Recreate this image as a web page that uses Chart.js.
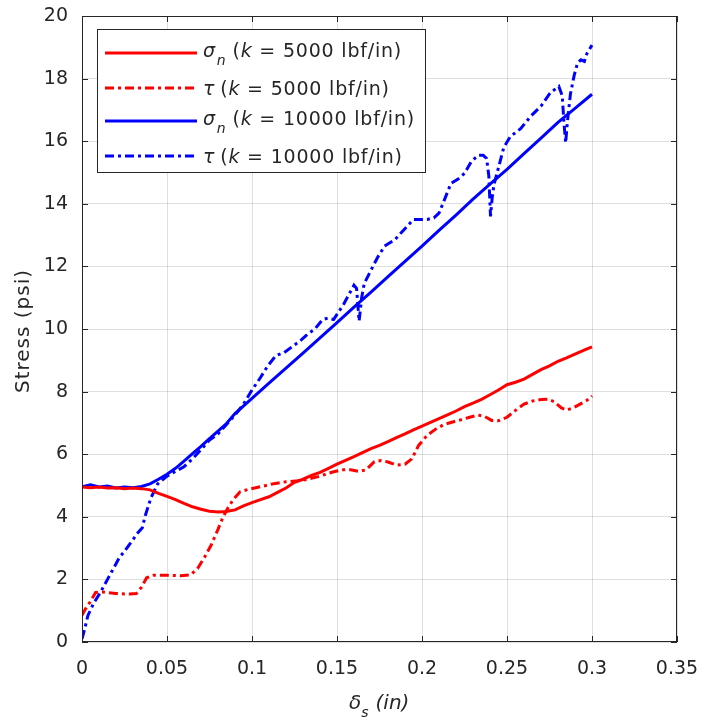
<!DOCTYPE html>
<html>
<head>
<meta charset="utf-8">
<script src="https://cdn.jsdelivr.net/npm/chart.js@4.4.1/dist/chart.umd.min.js"></script>
<style>
  html, body { margin: 0; padding: 0; background: #fff; }
</style>
</head>
<body>
<canvas id="stress" width="702" height="722"></canvas>
<script>
// sigma_n, k = 5000 lbf/in
const snSoftX = [0, 0.005, 0.01, 0.015, 0.02, 0.025, 0.03, 0.035, 0.04, 0.045, 0.05, 0.055, 0.06, 0.065, 0.07, 0.075, 0.08, 0.085, 0.09, 0.095, 0.1, 0.105, 0.11, 0.115, 0.12, 0.125, 0.13, 0.135, 0.14, 0.145, 0.15, 0.155, 0.16, 0.165, 0.17, 0.175, 0.18, 0.185, 0.19, 0.195, 0.2, 0.205, 0.21, 0.215, 0.22, 0.225, 0.23, 0.235, 0.24, 0.245, 0.25, 0.255, 0.26, 0.265, 0.27, 0.275, 0.28, 0.285, 0.29, 0.295, 0.3];
const snSoftY = [4.95, 4.93, 4.95, 4.92, 4.93, 4.9, 4.92, 4.9, 4.86, 4.75, 4.65, 4.55, 4.43, 4.32, 4.24, 4.18, 4.15, 4.17, 4.22, 4.35, 4.45, 4.55, 4.64, 4.78, 4.92, 5.1, 5.2, 5.32, 5.42, 5.55, 5.68, 5.8, 5.92, 6.05, 6.18, 6.28, 6.4, 6.53, 6.65, 6.78, 6.9, 7.02, 7.14, 7.26, 7.38, 7.52, 7.63, 7.75, 7.9, 8.05, 8.22, 8.3, 8.4, 8.55, 8.7, 8.82, 8.97, 9.08, 9.2, 9.32, 9.43];

// tau, k = 5000 lbf/in
const tauSoftX = [0, 0.002, 0.005, 0.008, 0.012, 0.02, 0.028, 0.032, 0.035, 0.038, 0.042, 0.05, 0.058, 0.064, 0.068, 0.072, 0.076, 0.08, 0.083, 0.086, 0.089, 0.093, 0.098, 0.105, 0.112, 0.12, 0.127, 0.133, 0.14, 0.148, 0.153, 0.158, 0.163, 0.167, 0.172, 0.176, 0.18, 0.185, 0.19, 0.194, 0.198, 0.203, 0.208, 0.213, 0.218, 0.223, 0.228, 0.233, 0.237, 0.241, 0.245, 0.25, 0.255, 0.26, 0.265, 0.27, 0.274, 0.278, 0.282, 0.285, 0.289, 0.293, 0.297, 0.3];
const tauSoftY = [0.85, 1.05, 1.3, 1.58, 1.6, 1.55, 1.53, 1.55, 1.75, 2.05, 2.13, 2.13, 2.12, 2.15, 2.35, 2.7, 3.1, 3.6, 4.0, 4.3, 4.55, 4.8, 4.88, 4.96, 5.05, 5.12, 5.15, 5.2, 5.3, 5.44, 5.5, 5.5, 5.45, 5.5, 5.76, 5.8, 5.75, 5.65, 5.68, 5.85, 6.28, 6.6, 6.8, 6.95, 7.03, 7.1, 7.18, 7.25, 7.2, 7.08, 7.07, 7.18, 7.4, 7.6, 7.7, 7.75, 7.76, 7.67, 7.48, 7.41, 7.48, 7.6, 7.72, 7.86];

// sigma_n, k = 10000 lbf/in
const snStiffX = [0, 0.005, 0.01, 0.015, 0.02, 0.025, 0.03, 0.035, 0.04, 0.045, 0.05, 0.055, 0.06, 0.065, 0.07, 0.075, 0.08, 0.085, 0.09, 0.1, 0.11, 0.12, 0.13, 0.14, 0.15, 0.16, 0.17, 0.18, 0.19, 0.2, 0.21, 0.22, 0.23, 0.24, 0.25, 0.26, 0.27, 0.28, 0.29, 0.3];
const snStiffY = [4.96, 5.02, 4.95, 4.98, 4.92, 4.95, 4.93, 4.97, 5.05, 5.2, 5.36, 5.55, 5.78, 6.02, 6.25, 6.5, 6.74, 6.98, 7.3, 7.78, 8.27, 8.75, 9.23, 9.72, 10.2, 10.7, 11.18, 11.67, 12.16, 12.65, 13.15, 13.64, 14.15, 14.63, 15.1, 15.6, 16.1, 16.6, 17.05, 17.5];

// tau, k = 10000 lbf/in
const tauStiffX = [0, 0.0015, 0.0035, 0.007, 0.011, 0.015, 0.019, 0.022, 0.025, 0.029, 0.033, 0.0355, 0.037, 0.0405, 0.0445, 0.05, 0.055, 0.06, 0.065, 0.07, 0.075, 0.08, 0.085, 0.09, 0.095, 0.1, 0.105, 0.109, 0.114, 0.119, 0.124, 0.129, 0.133, 0.137, 0.1415, 0.1445, 0.148, 0.151, 0.154, 0.157, 0.16, 0.1615, 0.163, 0.1645, 0.166, 0.17, 0.174, 0.178, 0.184, 0.189, 0.195, 0.199, 0.203, 0.207, 0.21, 0.213, 0.217, 0.221, 0.225, 0.229, 0.233, 0.236, 0.238, 0.2393, 0.2403, 0.2413, 0.2423, 0.2452, 0.2481, 0.252, 0.258, 0.264, 0.27, 0.2755, 0.2805, 0.2825, 0.2835, 0.2845, 0.2855, 0.2873, 0.2895, 0.2915, 0.2935, 0.2955, 0.297, 0.3];
const tauStiffY = [0.1, 0.4, 0.85, 1.25, 1.6, 2.0, 2.4, 2.7, 2.9, 3.2, 3.5, 3.65, 4.0, 4.6, 5.05, 5.3, 5.45, 5.6, 5.85, 6.15, 6.45, 6.65, 6.95, 7.25, 7.6, 8.05, 8.45, 8.8, 9.15, 9.25, 9.45, 9.65, 9.85, 10.0, 10.3, 10.35, 10.3, 10.55, 10.8, 11.1, 11.4, 11.3, 10.25, 11.0, 11.45, 11.88, 12.3, 12.65, 12.85, 13.15, 13.5, 13.5, 13.5, 13.55, 13.7, 14.1, 14.65, 14.78, 14.97, 15.35, 15.55, 15.55, 15.45, 14.9, 13.6, 14.2, 14.6, 15.2, 15.8, 16.15, 16.4, 16.8, 17.12, 17.55, 17.75, 17.45, 16.6, 15.95, 16.6, 17.5, 18.1, 18.5, 18.6, 18.55, 18.8, 19.07];

// legend pieces: symbol, subscript, spring stiffness
const seriesSymbol = ['σ', 'τ', 'σ', 'τ'];
const seriesSub = ['n', '', 'n', ''];
const stiffness = ['5000', '5000', '10000', '10000'];

const xTicks = [0, 0.05, 0.1, 0.15, 0.2, 0.25, 0.3, 0.35];
const yTicks = [0, 2, 4, 6, 8, 10, 12, 14, 16, 18, 20];

const RED = '#ff0000';
const BLUE = '#0000ff';
const DASHDOT = [9, 4, 3, 4];
const INK = '#262626';
const FONT = '"DejaVu Sans", sans-serif';

function toPoints(xs, ys) {
  return xs.map((x, i) => ({ x: x, y: ys[i] }));
}

function lineSet(label, xs, ys, color, dash) {
  return {
    label: label,
    data: toPoints(xs, ys),
    borderColor: color,
    borderWidth: 3,
    borderDash: dash,
    pointRadius: 0,
    tension: 0,
    fill: false
  };
}

const series = [
  lineSet('σn (k = 5000 lbf/in)', snSoftX, snSoftY, RED, []),
  lineSet('τ (k = 5000 lbf/in)', tauSoftX, tauSoftY, RED, DASHDOT),
  lineSet('σn (k = 10000 lbf/in)', snStiffX, snStiffY, BLUE, []),
  lineSet('τ (k = 10000 lbf/in)', tauStiffX, tauStiffY, BLUE, DASHDOT)
];

// draws a run of text pieces left to right, returns end x
function drawRun(ctx, x, pieces) {
  pieces.forEach(p => {
    ctx.font = p.font;
    ctx.fillText(p.text, x, p.y);
    x += ctx.measureText(p.text).width + (p.gap || 0);
  });
  return x;
}

// box, inward ticks, axis titles and legend, drawn the way MATLAB does
const matlabAxes = {
  id: 'matlabAxes',
  afterDatasetsDraw(chart) {
    const ctx = chart.ctx;
    const a = chart.chartArea;
    const sx = chart.scales.x;
    const sy = chart.scales.y;
    ctx.save();
    ctx.strokeStyle = INK;
    ctx.lineWidth = 1;
    ctx.beginPath();
    xTicks.forEach(v => {
      const px = Math.round(sx.getPixelForValue(v)) + 0.5;
      ctx.moveTo(px, a.bottom); ctx.lineTo(px, a.bottom - 6);
      ctx.moveTo(px, a.top); ctx.lineTo(px, a.top + 6);
    });
    yTicks.forEach(v => {
      const py = Math.round(sy.getPixelForValue(v)) + 0.5;
      ctx.moveTo(a.left, py); ctx.lineTo(a.left + 6, py);
      ctx.moveTo(a.right, py); ctx.lineTo(a.right - 6, py);
    });
    ctx.stroke();
    ctx.strokeRect(Math.round(a.left) + 0.5, Math.round(a.top) + 0.5,
      Math.round(a.right - a.left) - 1, Math.round(a.bottom - a.top) - 1);
    ctx.restore();
  },
  afterDraw(chart) {
    const ctx = chart.ctx;
    ctx.save();
    ctx.fillStyle = INK;
    ctx.textBaseline = 'alphabetic';

    // y axis title
    ctx.save();
    ctx.translate(24, 331);
    ctx.rotate(-Math.PI / 2);
    ctx.textAlign = 'center';
    ctx.textBaseline = 'middle';
    ctx.letterSpacing = '1px';
    ctx.font = '20px ' + FONT;
    ctx.fillText('Stress (psi)', 0, 0);
    ctx.restore();

    // x axis title: delta_s (in)
    ctx.letterSpacing = '0px';
    drawRun(ctx, 349, [
      { text: 'δ', font: 'italic 20px ' + FONT, y: 709, gap: 0 },
      { text: 's', font: 'italic 14px ' + FONT, y: 717, gap: 7 },
      { text: '(in)', font: 'italic 20px ' + FONT, y: 709 }
    ]);

    // legend
    const box = { x: 97, y: 29, w: 328, h: 143 };
    ctx.fillStyle = '#ffffff';
    ctx.fillRect(box.x, box.y, box.w, box.h);
    ctx.strokeStyle = INK;
    ctx.lineWidth = 1;
    ctx.strokeRect(box.x + 0.5, box.y + 0.5, box.w, box.h);

    const rowY = [53, 88, 121, 156];
    ctx.letterSpacing = '0.8px';
    series.forEach((ds, i) => {
      const y = rowY[i];
      ctx.save();
      ctx.strokeStyle = ds.borderColor;
      ctx.lineWidth = 3;
      ctx.setLineDash(ds.borderDash);
      ctx.beginPath();
      ctx.moveTo(105, y);
      ctx.lineTo(197, y);
      ctx.stroke();
      ctx.restore();

      ctx.fillStyle = INK;
      const hasSub = seriesSub[i] !== '';
      const base = hasSub ? y + 4 : y + 7;
      const pieces = [{ text: seriesSymbol[i], font: 'italic 19px ' + FONT, y: base, gap: hasSub ? 1 : 5 }];
      if (hasSub) pieces.push({ text: seriesSub[i], font: 'italic 14px ' + FONT, y: base + 8, gap: 6 });
      pieces.push({ text: '(', font: '19px ' + FONT, y: base });
      pieces.push({ text: 'k', font: 'italic 19px ' + FONT, y: base });
      pieces.push({ text: ' = ' + stiffness[i] + ' lbf/in)', font: '19px ' + FONT, y: base });
      drawRun(ctx, 203, pieces);
    });
    ctx.restore();
  }
};

new Chart(document.getElementById('stress'), {
  type: 'line',
  data: { datasets: series },
  options: {
    responsive: false,
    animation: false,
    events: [],
    layout: { padding: { left: 0, top: 16, right: 25, bottom: 0 } },
    plugins: {
      legend: { display: false },
      tooltip: { enabled: false }
    },
    scales: {
      x: {
        type: 'linear',
        min: 0,
        max: 0.35,
        afterBuildTicks: s => { s.ticks = xTicks.map(v => ({ value: v })); },
        afterFit: s => { s.height = 80; s.paddingLeft = 0; s.paddingRight = 0; },
        border: { display: false },
        grid: { color: 'rgba(38,38,38,0.15)', drawTicks: false },
        ticks: {
          color: INK,
          padding: 16,
          maxRotation: 0,
          font: { family: FONT, size: 19 },
          callback: v => String(parseFloat(v.toFixed(2)))
        }
      },
      y: {
        type: 'linear',
        min: 0,
        max: 20,
        afterBuildTicks: s => { s.ticks = yTicks.map(v => ({ value: v })); },
        afterFit: s => { s.width = 82; s.paddingTop = 0; s.paddingBottom = 0; },
        border: { display: false },
        grid: { color: 'rgba(38,38,38,0.15)', drawTicks: false },
        ticks: {
          color: INK,
          padding: 14,
          font: { family: FONT, size: 19 }
        }
      }
    }
  },
  plugins: [matlabAxes]
});
</script>
</body>
</html>
